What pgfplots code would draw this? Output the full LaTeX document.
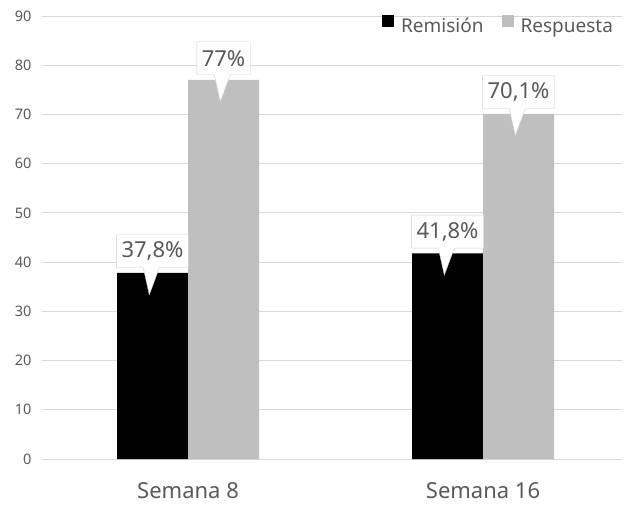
\documentclass[border=0pt]{standalone}
\usepackage{pgfplots}
\pgfplotsset{compat=1.18}
\usepackage{fontspec}
\setmainfont{Noto Sans}
\usetikzlibrary{shapes.callouts}
\definecolor{txt}{HTML}{595959}
\definecolor{gridc}{HTML}{D9D9D9}
\definecolor{resp}{HTML}{BFBFBF}
\definecolor{boxc}{HTML}{CFCFCF}
\begin{document}
\begin{tikzpicture}
\path[use as bounding box] (-42pt,-45pt) rectangle (585pt,459pt);
\begin{axis}[
  scale only axis, width=580pt, height=443pt,
  xmin=-0.495, xmax=1.471, ymin=0, ymax=90,
  ybar=0pt, bar width=71pt,
  xtick={0,1}, xticklabels={Semana 8, Semana 16},
  ytick={0,10,...,90},
  ymajorgrids, major grid style={gridc, line width=0.8pt},
  axis line style={draw=none}, tick style={draw=none},
  x tick label style={font=\fontsize{22}{24}\selectfont, text=txt, yshift=-16pt},
  y tick label style={font=\fontsize{14.5}{16}\selectfont, text=txt, xshift=-7pt},
  /pgf/number format/assume math mode=true,
  legend style={at={(0.99,1.005)}, anchor=north east, draw=none, fill=none,
    legend columns=2, font=\fontsize{19}{21}\selectfont, text=txt,
    inner sep=1pt,
    /tikz/every even column/.append style={column sep=16pt}},
  legend image code/.code={\fill[#1] (0pt,-1pt) rectangle (12pt,11pt);
    \path (17pt,0pt);},
  nodes near coords, point meta=explicit symbolic,
  every node near coord/.append style={font=\fontsize{22}{24}\selectfont,
    text=txt, rectangle callout, draw=boxc, fill=white, anchor=south,
    yshift=5pt, inner xsep=5pt, inner ysep=2pt, minimum height=33pt,
    callout relative pointer={(-2pt,-27pt)}, callout pointer width=16pt},
]
\addplot[fill=black, draw=none] coordinates {(0,37.8) [37,8\%] (1,41.8) [41,8\%]};
\addlegendentry{Remisión}
\addplot[fill=resp, draw=none] coordinates {(0,77) [77\%] (1,70.1) [70,1\%]};
\addlegendentry{Respuesta}
\end{axis}
\end{tikzpicture}
\end{document}
